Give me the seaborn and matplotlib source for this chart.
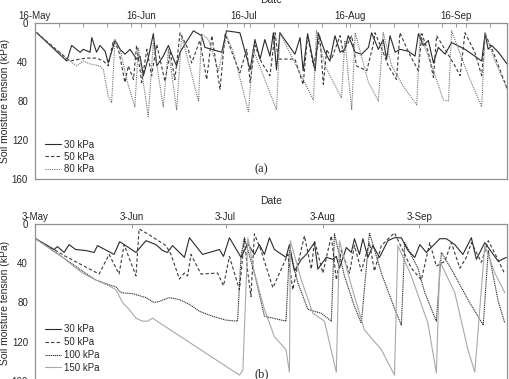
import numpy as np
import pandas as pd
import seaborn as sns
import matplotlib
matplotlib.use("Agg")
import matplotlib.pyplot as plt
import matplotlib.dates as mdates

# ---- data (day offsets from panel start, tension in kPa) ----
start_a = pd.Timestamp("2012-05-16")
end_a = pd.Timestamp("2012-10-01")
start_b = pd.Timestamp("2012-05-03")
end_b = pd.Timestamp("2012-10-01")

a30_day = [0.5, 9.3, 10.7, 13.2, 14.1, 16.1, 16.6, 18.0, 19.0, 20.5, 21.4, 23.4, 24.9, 26.3,
           27.8, 29.7, 30.7, 31.7, 33.1, 34.6, 35.6, 37.5, 39.0, 40.4, 41.4, 42.4, 46.3, 48.7,
           49.7, 54.6, 56.0, 59.9, 62.9, 64.3, 65.8, 67.2, 68.7, 69.7, 70.6, 71.6, 76.0, 77.5,
           78.4, 79.7, 81.9, 82.8, 84.8, 86.2, 87.7, 89.2, 90.6, 91.6, 93.6, 95.5, 97.5, 98.4,
           100.4, 101.8, 102.8, 103.8, 105.3, 106.7, 109.2, 111.1, 112.1, 113.5, 115.0, 116.5,
           117.9, 119.9, 121.8, 125.7, 128.6, 130.6, 131.6, 132.5, 133.5, 135.5, 138.0]
a30_val = [10, 39, 23, 30, 27, 30, 15, 30, 23, 29, 41, 18, 27, 32,
           27, 37, 34, 54, 36, 11, 44, 34, 23, 36, 44, 30, 8, 13,
           25, 30, 8, 10, 48, 17, 37, 17, 34, 10, 48, 10, 32, 15,
           49, 11, 49, 10, 30, 39, 13, 30, 27, 13, 30, 32, 25, 10,
           27, 17, 37, 13, 30, 27, 29, 34, 11, 23, 18, 41,
           25, 32, 20, 27, 34, 39, 11, 27, 23, 30, 42]

a50_day = [0.5, 10.2, 13.2, 15.1, 18.0, 20.0, 21.4, 22.9, 24.4, 26.3, 27.3, 28.8, 29.7, 31.2,
           32.7, 34.1, 35.6, 38.0, 39.5, 40.9, 42.4, 44.8, 45.8, 48.2, 50.2, 51.7, 54.1, 55.6,
           58.0, 59.9, 61.9, 62.9, 64.3, 66.3, 68.7, 70.2, 71.1, 76.0, 78.4, 79.7, 81.4, 83.3,
           84.3, 85.3, 86.7, 89.2, 90.1, 92.6, 94.0, 97.0, 98.9, 99.4, 101.8, 103.3, 105.7,
           106.7, 109.2, 112.1, 113.1, 115.0, 116.5, 117.4, 120.4, 122.8, 124.3, 125.7, 128.6,
           130.6, 131.6, 134.0, 135.5, 138.0]
a50_val = [10, 39, 37, 36, 36, 39, 44, 18, 27, 61, 44, 58, 23, 61,
           27, 54, 22, 60, 30, 58, 10, 27, 41, 18, 58, 13, 68, 11,
           34, 51, 27, 61, 23, 41, 54, 10, 37, 37, 63, 13, 44, 13,
           63, 27, 37, 13, 30, 13, 44, 49, 22, 10, 30, 44, 58,
           10, 30, 49, 11, 30, 56, 13, 30, 44, 54, 10, 30,
           54, 11, 30, 44, 67]

a80_day = [0.5, 9.3, 12.2, 14.1, 16.1, 19.0, 20.0, 21.4, 22.4, 23.4, 24.9, 26.8, 29.2, 30.2,
           33.1, 34.6, 37.5, 39.0, 41.4, 42.9, 43.9, 47.8, 48.7, 50.7, 53.6, 56.0, 58.0, 62.4,
           63.8, 70.6, 71.6, 81.4, 82.3, 84.8, 89.6, 90.6, 92.6, 93.6, 97.5, 100.4, 101.8,
           104.3, 107.7, 111.6, 112.6, 116.0, 119.4, 120.9, 121.8, 126.7, 130.6, 131.6, 134.5,
           138.0]
a80_val = [10, 37, 44, 39, 42, 44, 48, 75, 82, 17, 27, 58, 86, 25,
           96, 20, 86, 27, 89, 13, 27, 80, 11, 17, 49, 13, 30, 91,
           27, 89, 10, 79, 8, 44, 77, 18, 89, 10, 61, 80, 10,
           44, 65, 84, 11, 44, 79, 80, 8, 54, 86, 10, 39,
           67]

b30_day = [0.2, 6.1, 7.2, 9.3, 10.9, 13.0, 16.2, 18.9, 20.0, 25.3, 27.1, 32.3, 35.5, 38.7,
           40.8, 42.4, 44.0, 47.8, 49.4, 53.6, 59.0, 60.3, 62.2, 65.9, 68.1, 70.2, 71.8, 73.4,
           75.0, 76.6, 80.3, 81.4, 83.0, 85.2, 86.8, 89.4, 90.5, 91.6, 93.2, 95.3, 96.4, 97.4,
           99.6, 101.2, 102.2, 103.8, 104.9, 106.5, 108.1, 110.2, 112.9, 115.0, 117.2, 119.3,
           121.5, 123.1, 125.2, 129.5, 131.6, 134.3, 136.9, 139.6, 141.2, 143.9, 146.6, 148.2,
           150.8]
b30_val = [15, 26, 23, 29, 21, 26, 27, 29, 22, 31, 18, 29, 17, 21,
           27, 29, 22, 34, 14, 31, 26, 33, 14, 34, 20, 31, 21, 31,
           14, 26, 34, 21, 48, 36, 31, 19, 46, 41, 34, 36, 33, 45,
           24, 29, 15, 31, 15, 34, 22, 34, 17, 14, 14, 27,
           34, 21, 29, 15, 15, 21, 31, 14, 36, 19, 31, 38,
           34]

b50_day = [0.2, 9.8, 20.5, 23.7, 26.9, 28.5, 32.3, 33.3, 36.0, 41.9, 43.5, 46.2, 47.8, 48.8,
           49.9, 53.1, 58.4, 60.3, 62.2, 65.4, 67.0, 68.1, 69.1, 70.2, 72.3, 76.1, 80.9, 82.5,
           84.1, 86.2, 88.4, 89.4, 92.1, 94.8, 96.4, 98.0, 100.6, 102.2, 104.4, 107.0, 108.6,
           110.8, 115.0, 120.4, 123.6, 126.3, 128.4, 131.1, 133.2, 135.9, 138.0, 139.6, 142.8,
           145.0, 147.6, 150.3]
b50_val = [15, 33, 51, 31, 51, 21, 53, 5, 10, 22, 31, 56, 50, 53,
           31, 51, 50, 63, 33, 67, 15, 50, 74, 10, 27, 65, 31, 67,
           41, 12, 46, 17, 50, 12, 57, 27, 50, 22, 48, 19, 48,
           22, 9, 45, 57, 19, 43, 38, 19, 45, 34, 19, 39,
           17, 33, 51]

b100_day = [0.2, 9.8, 15.2, 19.4, 23.7, 25.9, 27.5, 31.2, 35.5, 38.1, 39.7, 42.9, 46.2, 49.4,
            50.4, 52.6, 56.8, 61.1, 64.8, 65.9, 67.0, 70.2, 73.4, 80.3, 81.4, 84.1, 87.3, 91.6,
            94.8, 95.8, 99.0, 102.2, 104.4, 107.0, 110.8, 115.0, 117.2, 118.3, 122.5, 124.7,
            128.4, 130.0, 133.2, 138.5, 143.4, 145.0, 148.2, 150.3]
b100_val = [15, 36, 48, 57, 62, 64, 70, 71, 75, 80, 79, 75, 77, 82,
            84, 89, 94, 98, 99, 33, 14, 50, 94, 99, 27, 60, 87, 91,
            99, 10, 53, 84, 101, 9, 50, 86, 103, 19, 45, 70,
            99, 29, 46, 77, 103, 27, 79, 101]

b150_day = [0.2, 8.8, 15.2, 19.4, 23.7, 25.9, 28.0, 30.1, 32.3, 34.4, 36.0, 37.6, 65.4, 66.5,
            68.1, 70.2, 73.4, 76.6, 80.3, 81.4, 81.7, 85.2, 88.9, 92.6, 96.4, 97.4, 101.2,
            105.4, 110.8, 115.0, 116.1, 120.4, 125.7, 128.4, 129.5, 134.3, 138.5, 140.7, 143.9,
            147.1, 150.3]
b150_val = [15, 34, 50, 57, 63, 67, 80, 87, 96, 99, 99, 96, 154, 149,
            14, 50, 87, 115, 128, 151, 17, 57, 91, 99, 151, 17, 63,
            108, 128, 154, 22, 53, 101, 152, 38, 70, 128, 151, 22,
            50, 70]


def series(start, days, vals):
    return pd.DataFrame({"date": start + pd.to_timedelta(days, unit="D"), "kPa": vals})


sns.set_style("white")
plt.rcParams["font.family"] = ["Liberation Sans", "DejaVu Sans"]

fig = plt.figure(figsize=(5.10, 3.79), dpi=100)
ax1 = fig.add_axes([35 / 510, 1 - 179 / 379, 472 / 510, 156 / 379])
ax2 = fig.add_axes([35 / 510, 1 - 381 / 379, 472 / 510, 157 / 379])

lw = 0.8
sns.lineplot(data=series(start_a, a30_day, a30_val), x="date", y="kPa", ax=ax1,
             color="#2a2a2a", lw=lw, linestyle="-", label="30 kPa")
sns.lineplot(data=series(start_a, a50_day, a50_val), x="date", y="kPa", ax=ax1,
             color="#3a3a3a", lw=lw, linestyle=(0, (3, 2)), label="50 kPa")
sns.lineplot(data=series(start_a, a80_day, a80_val), x="date", y="kPa", ax=ax1,
             color="#707070", lw=lw, linestyle=(0, (1, 1)), label="80 kPa")

sns.lineplot(data=series(start_b, b30_day, b30_val), x="date", y="kPa", ax=ax2,
             color="#2a2a2a", lw=lw, linestyle="-", label="30 kPa")
sns.lineplot(data=series(start_b, b50_day, b50_val), x="date", y="kPa", ax=ax2,
             color="#3a3a3a", lw=lw, linestyle=(0, (3, 2)), label="50 kPa")
sns.lineplot(data=series(start_b, b100_day, b100_val), x="date", y="kPa", ax=ax2,
             color="#2a2a2a", lw=lw, linestyle=(0, (1, 0.7)), label="100 kPa")
sns.lineplot(data=series(start_b, b150_day, b150_val), x="date", y="kPa", ax=ax2,
             color="#a8a8a8", lw=lw, linestyle="-", label="150 kPa")

for ax, s, e, mday, tag in [(ax1, start_a, end_a, 16, "(a)"), (ax2, start_b, end_b, 3, "(b)")]:
    ax.set_xlim(s, e)
    ax.set_ylim(160, 0)
    ax.set_yticks([0, 40, 80, 120, 160])
    ax.xaxis.tick_top()
    ax.xaxis.set_label_position("top")
    ax.xaxis.set_major_locator(mdates.MonthLocator(bymonthday=mday))
    ax.xaxis.set_major_formatter(mdates.DateFormatter("%-d-%b"))
    ax.tick_params(axis="x", direction="in", length=3, width=0.6, color="#888888",
                   labelsize=7, pad=1.5, top=True, bottom=False)
    ax.tick_params(axis="y", length=0, labelsize=7, pad=5)
    ax.set_xlabel("Date", fontsize=7.5, labelpad=6)
    ax.set_ylabel("Soil moisture tension (kPa)", fontsize=7.5)
    ax.yaxis.set_label_coords(-0.052, 0.5)
    for sp in ax.spines.values():
        sp.set_color("#909090")
        sp.set_linewidth(0.9)
    ax.text(0.48, 0.06 if tag == "(a)" else 0.04, tag, transform=ax.transAxes,
            fontsize=9, family=["Liberation Serif", "DejaVu Serif"], ha="center", va="center")
    ax.legend(loc="lower left", frameon=False, fontsize=7, handlelength=1.7,
              handletextpad=0.3, labelspacing=0.22 if tag == "(a)" else 0.3,
              borderaxespad=0.6, bbox_to_anchor=(0.0, -0.03 if tag == "(a)" else -0.01))

minor = pd.date_range(start_a, end_a, freq="7D")
ax1.set_xticks(mdates.date2num(minor), minor=True)
ax1.tick_params(axis="x", which="minor", direction="in", length=3, width=0.6,
                color="#888888", top=True, bottom=False)

fig.savefig("out.png", dpi=100)
